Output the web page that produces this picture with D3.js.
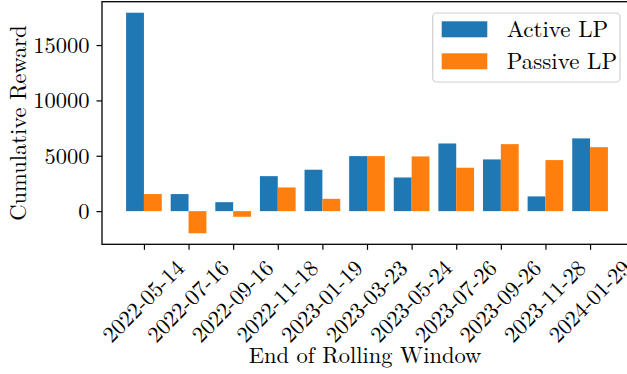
<!DOCTYPE html>
<html>
<head>
<meta charset="utf-8">
<script src="https://cdn.jsdelivr.net/npm/d3@7"></script>
<style>
  html, body { margin: 0; padding: 0; background: #fff; }
  svg { display: block; }
</style>
</head>
<body>
<svg id="chart" width="627" height="374"></svg>
<script>
// Rolling-window end dates
const categories = ["2022-05-14", "2022-07-16", "2022-09-16", "2022-11-18", "2023-01-19",
  "2023-03-23", "2023-05-24", "2023-07-26", "2023-09-26", "2023-11-28", "2024-01-29"];
// Cumulative reward per window
const activeLP  = [17920, 1540, 810, 3160, 3740, 4970, 3040, 6110, 4670, 1330, 6570];
const passiveLP = [1540, -2000, -510, 2140, 1110, 4970, 4940, 3920, 6050, 4610, 5780];
const seriesNames = ["Active LP", "Passive LP"];
const yTicks = [0, 5000, 10000, 15000];

const colors = ["#1f77b4", "#ff7f0e"];
const fontFamily = '"Latin Modern Roman", "Liberation Serif", serif';
const fontSize = 22.5;
const barWidth = 0.4;

const plot = { left: 102, right: 632, top: 1.7, bottom: 244.3 };

const svg = d3.select("#chart");

// x: category index, padded by 5% beyond the outer bar edges
const xMin = -barWidth, xMax = categories.length - 1 + barWidth;
const xPad = 0.05 * (xMax - xMin);
const x = d3.scaleLinear().domain([xMin - xPad, xMax + xPad]).range([plot.left, plot.right]);

// y: value, padded by 5% of the data span
const allVals = activeLP.concat(passiveLP, [0]);
const yLo = d3.min(allVals), yHi = d3.max(allVals);
const yPad = 0.05 * (yHi - yLo);
const y = d3.scaleLinear().domain([yLo - yPad, yHi + yPad]).range([plot.bottom, plot.top]);

svg.append("clipPath").attr("id", "plotclip")
  .append("rect").attr("x", plot.left).attr("y", plot.top)
  .attr("width", plot.right - plot.left).attr("height", plot.bottom - plot.top);

// bars
const series = [activeLP, passiveLP];
const barsG = svg.append("g").attr("clip-path", "url(#plotclip)");
series.forEach((vals, s) => {
  barsG.selectAll(null).data(vals).enter().append("rect")
    .attr("x", (d, i) => x(i + (s === 0 ? -barWidth : 0)))
    .attr("width", x(barWidth) - x(0))
    .attr("y", d => y(Math.max(0, d)))
    .attr("height", d => Math.abs(y(d) - y(0)))
    .attr("fill", colors[s]);
});

// frame
svg.append("rect")
  .attr("x", plot.left).attr("y", plot.top)
  .attr("width", plot.right - plot.left).attr("height", plot.bottom - plot.top)
  .attr("fill", "none").attr("stroke", "#000").attr("stroke-width", 1.3);

// y axis
const yAxis = d3.axisLeft(y).tickValues(yTicks).tickSize(5.5).tickPadding(7).tickFormat(d3.format("d"));
const yg = svg.append("g").attr("transform", `translate(${plot.left},0)`).call(yAxis);
yg.select(".domain").remove();
yg.selectAll(".tick line").attr("stroke", "#000").attr("stroke-width", 1.2);
yg.selectAll(".tick text")
  .style("font-family", fontFamily).style("font-size", fontSize + "px")
  .attr("fill", "#000").attr("dy", "0.33em");

// x axis, labels turned 45 degrees and centred under each tick
const xAxis = d3.axisBottom(x).tickValues(d3.range(categories.length)).tickSize(5.5).tickFormat(i => categories[i]);
const xg = svg.append("g").attr("transform", `translate(0,${plot.bottom})`).call(xAxis);
xg.select(".domain").remove();
xg.selectAll(".tick line").attr("stroke", "#000").attr("stroke-width", 1.2);
xg.selectAll(".tick text")
  .style("font-family", fontFamily).style("font-size", fontSize + "px")
  .attr("fill", "#000")
  .attr("text-anchor", "middle").attr("dy", "0.33em")
  .attr("y", 0)
  .attr("transform", "translate(-1,57) rotate(-45)");

// axis titles
svg.append("text")
  .attr("transform", `translate(26,${(plot.top + plot.bottom) / 2}) rotate(-90)`)
  .attr("text-anchor", "middle")
  .style("font-family", fontFamily).style("font-size", fontSize + "px")
  .text("Cumulative Reward");

svg.append("text")
  .attr("x", (plot.left + plot.right) / 2 - 2).attr("y", 363)
  .attr("text-anchor", "middle")
  .style("font-family", fontFamily).style("font-size", fontSize + "px")
  .text("End of Rolling Window");

// legend
const legend = svg.append("g");
legend.append("rect")
  .attr("x", 432.7).attr("y", 13).attr("width", 187.3).attr("height", 69)
  .attr("rx", 4).attr("fill", "#fff").attr("fill-opacity", 0.8)
  .attr("stroke", "#d0d0d0").attr("stroke-width", 1.2);
seriesNames.forEach((name, s) => {
  const top = 21.3 + s * 32;
  legend.append("rect").attr("x", 441.7).attr("y", top)
    .attr("width", 45.6).attr("height", 16).attr("fill", colors[s]);
  legend.append("text").attr("x", 506.7).attr("y", top + 16)
    .style("font-family", fontFamily).style("font-size", (fontSize + 0.5) + "px")
    .text(name);
});
</script>
</body>
</html>
